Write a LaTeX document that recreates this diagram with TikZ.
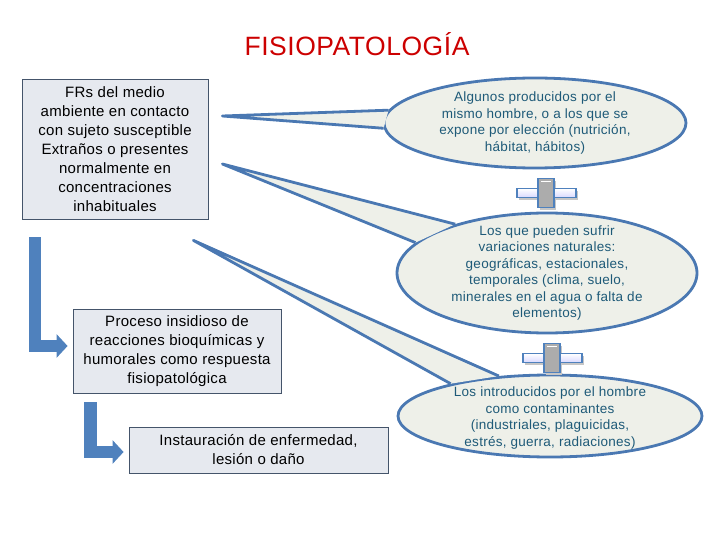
\documentclass[tikz,border=0pt]{standalone}
\usepackage{fontspec}
\setmainfont{Liberation Sans}[LetterSpace=2]
\usepackage{xcolor}
\usepackage{tikz}
\usetikzlibrary{calc, shapes.geometric, positioning, arrows.meta}

\definecolor{boxfill}{HTML}{E6E9EF}
\definecolor{boxline}{HTML}{44546A}
\definecolor{bubblefill}{HTML}{EEF0E9}
\definecolor{bubbleline}{HTML}{4A78B2}
\definecolor{bubbletext}{RGB}{30,90,120}
\definecolor{arrowblue}{HTML}{4F81BD}
\definecolor{titlered}{HTML}{CC0000}

\begin{document}
\begin{tikzpicture}[x=1pt, y=-1pt,
    box/.style={draw=boxline, fill=boxfill, line width=0.8pt, align=center, inner sep=0pt,
        font=\fontsize{15}{19}\selectfont},
    bubble/.style={ellipse, draw=bubbleline, fill=bubblefill, line width=2.8pt, inner sep=0pt},
    bubbletxt/.style={align=center, text=bubbletext, font=\fontsize{13.5}{16.5}\selectfont},
    tail/.style={draw=bubbleline, fill=bubblefill, line width=2.8pt, line join=round},
    larrow/.style={draw=arrowblue, line width=12.5pt, -{Triangle[length=11pt, width=23pt]}}]
    \useasboundingbox (0,0) rectangle (720,540);

    % Titulo
    \node[font=\fontsize{26.5}{30}\selectfont, text=titlered] (title) at (357,44) {FISIOPATOLOGÍA};

    % Cajas de la izquierda
    \node[box, minimum width=186pt, minimum height=140pt] (frs) at (115,149)
        {FRs del medio\\ ambiente en contacto\\ con sujeto susceptible\\ Extraños o presentes\\
         normalmente en\\ concentraciones\\ inhabituales};
    \node[box, minimum width=208pt, minimum height=84pt] (proceso) at (177,351)
        {Proceso insidioso de\\ reacciones bioquímicas y\\ humorales como respuesta\\ fisiopatológica};
    \node[box, minimum width=259pt, minimum height=46pt] (instaura) at (258.5,450)
        {Instauración de enfermedad,\\ lesión o daño};

    % Flechas en L
    \draw[larrow] ($(frs.south west)+(13.5,18)$) |- ([xshift=-5pt, yshift=5pt]proceso.west);
    \draw[larrow] ($(proceso.south west)+(18,9)$) |- ([xshift=-5pt, yshift=-2pt]instaura.west);

    % Globos
    \node[bubble, minimum width=302pt, minimum height=90pt] (algunos) at (535,123) {};
    \node[bubble, minimum width=300pt, minimum height=120pt] (naturales) at (547,273) {};
    \node[bubble, minimum width=304pt, minimum height=82pt] (introducidos) at (550,416) {};

    \coordinate (tip1) at ($(frs.east)+(14,-33)$);
    \coordinate (tip2) at ($(frs.east)+(14,15)$);
    \coordinate (tip3) at ($(frs.south east)+(-15,21)$);
    \filldraw[tail] (algunos.175) -- (tip1) -- (algunos.182);
    \filldraw[tail] (naturales.152) -- (tip2) -- (naturales.167);
    \filldraw[tail] (introducidos.142) -- (tip3) -- (introducidos.162);

    \node[bubbletxt] (algunostxt) at (algunos)
        {Algunos producidos por el\\ mismo hombre, o a los que se\\ expone por elección (nutrición,\\ hábitat, hábitos)};
    \node[bubbletxt] (naturalestxt) at (naturales)
        {Los que pueden sufrir\\ variaciones naturales:\\ geográficas, estacionales,\\ temporales (clima, suelo,\\
         minerales en el agua o falta de\\ elementos)};
    \node[bubbletxt] (introducidostxt) at ([yshift=-2pt]introducidos)
        {Los introducidos por el hombre\\ como contaminantes\\ (industriales, plaguicidas,\\ estrés, guerra, radiaciones)};

    % Signos mas
    \foreach \cx/\cy in {546/193, 552/358} {
        \fill[gray!45] (\cx-27,\cy-2) rectangle (\cx+32,\cy+7);
        \fill[gray!45] (\cx-6,\cy-12) rectangle (\cx+10,\cy+17);
        \draw[draw=arrowblue, line width=1.5pt, top color=white, bottom color=blue!15]
            (\cx-29,\cy-4.5) rectangle (\cx+30,\cy+4.5);
        \draw[draw=arrowblue, line width=1.5pt, fill=gray!65] (\cx-8,\cy-14.5) rectangle (\cx+8,\cy+14.5);
        \draw[white, line width=1.5pt] (\cx-5,\cy-11.5) -- (\cx+5,\cy-11.5);
    }
\end{tikzpicture}
\end{document}
